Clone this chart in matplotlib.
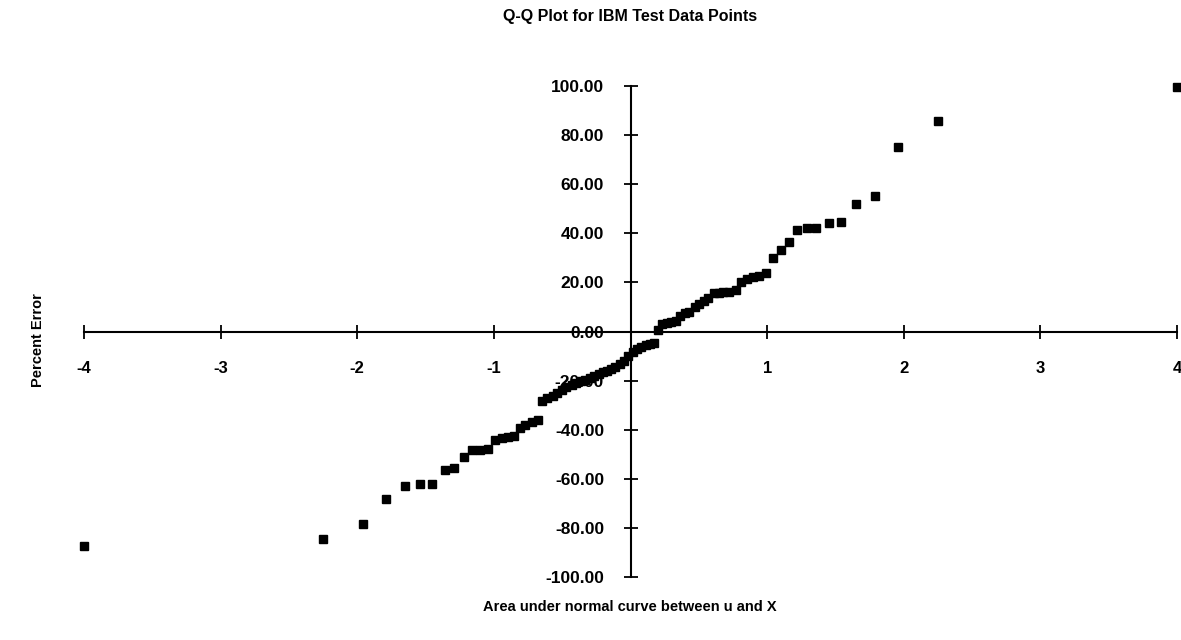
import numpy as np
import matplotlib
matplotlib.use('Agg')
from matplotlib import pyplot as plt

plt.rcParams['font.family'] = ['Liberation Sans', 'DejaVu Sans']
plt.rcParams['font.weight'] = 'bold'

# normal quantiles (x), left half then right half
x_left = [-4.00, -2.25, -1.96, -1.79, -1.65, -1.54, -1.45, -1.36, -1.29, -1.22,
          -1.16, -1.10, -1.04, -0.99, -0.94, -0.90, -0.85, -0.81, -0.77, -0.72,
          -0.68, -0.65, -0.61, -0.57, -0.54, -0.50, -0.47, -0.43, -0.40, -0.36,
          -0.33, -0.30, -0.27, -0.23, -0.20, -0.17, -0.14, -0.11, -0.08, -0.05,
          -0.02]
x_right = [0.02, 0.05, 0.08, 0.11, 0.14, 0.17, 0.20, 0.23, 0.27, 0.30,
           0.33, 0.36, 0.40, 0.43, 0.47, 0.50, 0.54, 0.57, 0.61, 0.65,
           0.68, 0.72, 0.77, 0.81, 0.85, 0.90, 0.94, 0.99, 1.04, 1.10,
           1.16, 1.22, 1.29, 1.36, 1.45, 1.54, 1.65, 1.79, 1.96, 2.25,
           4.00]

# percent error values
err_left = [-87.5, -84.6, -78.3, -68.4, -63.0, -62.2, -62.0, -56.6, -55.7, -51.0,
            -48.3, -48.1, -48.0, -44.0, -43.5, -43.0, -42.5, -39.5, -38.0, -37.0,
            -36.2, -28.3, -27.2, -26.3, -25.0, -23.8, -22.5, -21.8, -21.0, -20.2,
            -19.6, -18.9, -18.2, -17.5, -16.7, -16.0, -15.1, -14.3, -13.2, -12.0,
            -10.0]
err_right = [-8.3, -7.2, -6.4, -5.6, -5.0, -4.5, 0.8, 3.2, 3.6, 4.0,
             4.4, 6.2, 7.4, 8.0, 9.8, 11.0, 12.4, 13.8, 15.6, 15.8,
             15.9, 16.2, 17.0, 20.2, 21.2, 22.0, 22.6, 24.0, 29.8, 33.2,
             36.6, 41.5, 42.2, 42.0, 44.0, 44.7, 52.0, 55.2, 75.1, 85.7,
             99.5]

x_ticks = [-4, -3, -2, -1, 1, 2, 3, 4]
y_ticks = [-100, -80, -60, -40, -20, 0, 20, 40, 60, 80, 100]

x = np.array(x_left + x_right)
y = np.array(err_left + err_right)

fig = plt.figure(figsize=(11.81, 6.40), dpi=100)
# axes placed so that -4..4 and -100..100 land where they do in the scan
ax = fig.add_axes([84/1181, 1-577/640, (1177-84)/1181, (577-86)/640])

ax.plot(x, y, linestyle='none', marker='s', markersize=5.2, color='black', clip_on=False)

ax.set_xlim(-4, 4)
ax.set_ylim(-100, 100)

# cross shaped axes through the origin
ax.spines['left'].set_position(('data', 0))
ax.spines['bottom'].set_position(('data', 0))
ax.spines['top'].set_visible(False)
ax.spines['right'].set_visible(False)
ax.spines['left'].set_linewidth(1.5)
ax.spines['bottom'].set_linewidth(1.5)

ax.set_xticks(x_ticks)
ax.set_xticklabels([str(t) for t in x_ticks])
ax.set_yticks(y_ticks)
ax.set_yticklabels(['%.2f' % t for t in y_ticks])
ax.tick_params(axis='x', direction='inout', length=10, width=1.3, pad=16, labelsize=12)
ax.tick_params(axis='y', direction='inout', length=10, width=1.3, pad=14, labelsize=12.5)

fig.text(630/1181, 1-17/640, 'Q-Q Plot for IBM Test Data Points', ha='center', va='center',
         fontsize=11.5, fontweight='bold')
fig.text(630/1181, 1-607/640, 'Area under normal curve between u and X', ha='center', va='center',
         fontsize=10.5, fontweight='bold')
fig.text(38/1181, 1-340/640, 'Percent Error', ha='center', va='center', rotation=90,
         fontsize=10.5, fontweight='bold')

fig.savefig('out.png', dpi=100)
